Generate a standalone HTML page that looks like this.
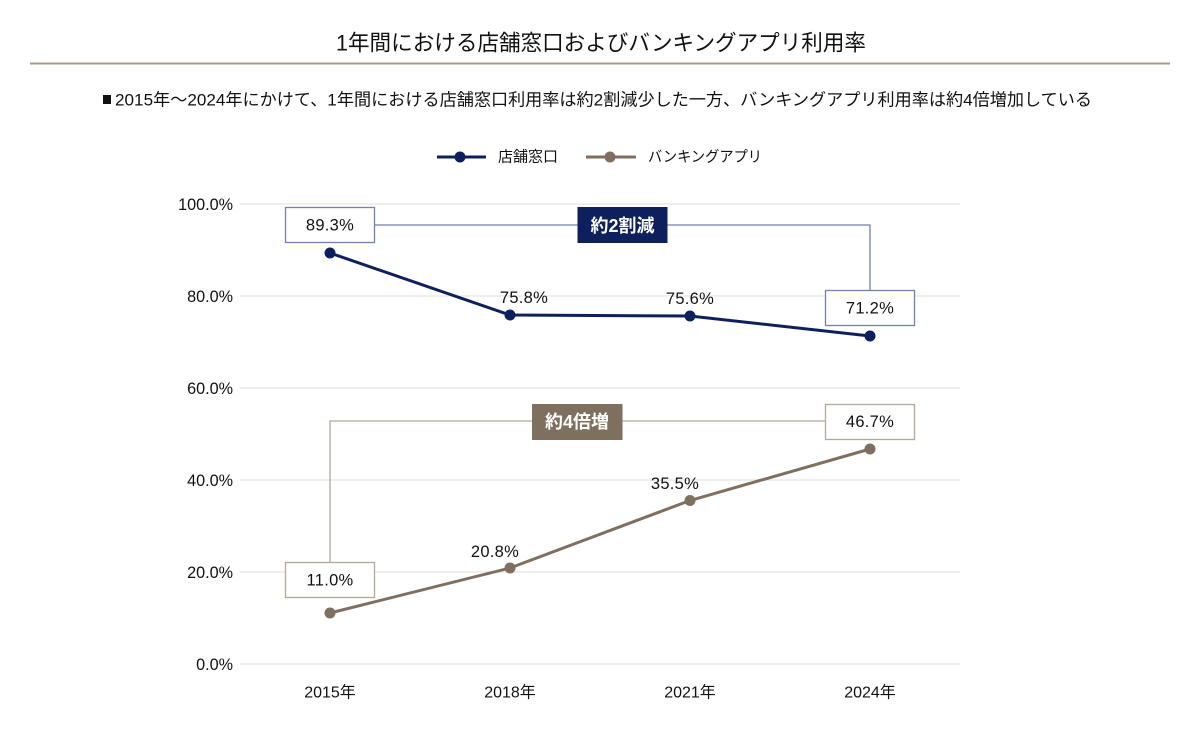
<!DOCTYPE html>
<html>
<head>
<meta charset="utf-8">
<style>
  html, body { margin:0; padding:0; background:#ffffff; }
  svg { display:block; }
  text { font-family: "Liberation Sans", "Noto Sans CJK JP", sans-serif; fill:#111111; }
</style>
</head>
<body>
<svg width="1200" height="730" viewBox="0 0 1200 730" xmlns="http://www.w3.org/2000/svg">
  <rect x="0" y="0" width="1200" height="730" fill="#ffffff"/>

  <!-- Title -->
  <text x="336" y="43" font-size="22" dominant-baseline="central" textLength="530" lengthAdjust="spacingAndGlyphs">1年間における店舗窓口およびバンキングアプリ利用率</text>
  <rect x="30" y="62.5" width="1140" height="2" fill="#a59a8b"/>

  <!-- Subtitle -->
  <rect x="103" y="95" width="8" height="9" fill="#111111"/>
  <text x="115" y="100" font-size="17" dominant-baseline="central" textLength="977" lengthAdjust="spacingAndGlyphs">2015年～2024年にかけて、1年間における店舗窓口利用率は約2割減少した一方、バンキングアプリ利用率は約4倍増加している</text>

  <!-- Legend -->
  <line x1="437" y1="157" x2="486" y2="157" stroke="#0e1f5e" stroke-width="3"/>
  <circle cx="460" cy="157" r="5.5" fill="#0e1f5e"/>
  <text x="498" y="157" font-size="15" dominant-baseline="central" textLength="60" lengthAdjust="spacingAndGlyphs">店舗窓口</text>
  <line x1="586" y1="157" x2="636" y2="157" stroke="#7e6f5e" stroke-width="3"/>
  <circle cx="610" cy="157" r="5.5" fill="#7e6f5e"/>
  <text x="648" y="157" font-size="15" dominant-baseline="central" textLength="114" lengthAdjust="spacingAndGlyphs">バンキングアプリ</text>

  <!-- Gridlines -->
  <g stroke="#f1efeb" stroke-width="2">
    <line x1="240" y1="204" x2="960" y2="204"/>
    <line x1="240" y1="296" x2="960" y2="296"/>
    <line x1="240" y1="388" x2="960" y2="388"/>
    <line x1="240" y1="480" x2="960" y2="480"/>
    <line x1="240" y1="572" x2="960" y2="572"/>
    <line x1="240" y1="664" x2="960" y2="664"/>
  </g>

  <!-- Y axis labels -->
  <g font-size="16.2" text-anchor="end">
    <text x="233" y="205" dominant-baseline="central">100.0%</text>
    <text x="233" y="297" dominant-baseline="central">80.0%</text>
    <text x="233" y="389" dominant-baseline="central">60.0%</text>
    <text x="233" y="481" dominant-baseline="central">40.0%</text>
    <text x="233" y="573" dominant-baseline="central">20.0%</text>
    <text x="233" y="665" dominant-baseline="central">0.0%</text>
  </g>

  <!-- X axis labels -->
  <g font-size="16" text-anchor="middle">
    <text x="330" y="693" dominant-baseline="central">2015年</text>
    <text x="510" y="693" dominant-baseline="central">2018年</text>
    <text x="690" y="693" dominant-baseline="central">2021年</text>
    <text x="870" y="693" dominant-baseline="central">2024年</text>
  </g>

  <!-- Navy connector -->
  <polyline points="375,225 870,225 870,290" fill="none" stroke="#7281ab" stroke-width="1.3"/>
  <!-- Brown connector -->
  <polyline points="330,562 330,421 825,421" fill="none" stroke="#b2a799" stroke-width="1.3"/>

  <!-- Navy series -->
  <polyline points="330,253 510,315 690,316 870,336" fill="none" stroke="#0e1f5e" stroke-width="3"/>
  <g fill="#0e1f5e">
    <circle cx="330" cy="253" r="5.5"/>
    <circle cx="510" cy="315" r="5.5"/>
    <circle cx="690" cy="316" r="5.5"/>
    <circle cx="870" cy="336" r="5.5"/>
  </g>

  <!-- Brown series -->
  <polyline points="330,613 510,568 690,500.5 870,449" fill="none" stroke="#7e6f5e" stroke-width="3"/>
  <g fill="#7e6f5e">
    <circle cx="330" cy="613" r="5.5"/>
    <circle cx="510" cy="568" r="5.5"/>
    <circle cx="690" cy="500.5" r="5.5"/>
    <circle cx="870" cy="449" r="5.5"/>
  </g>

  <!-- Boxes -->
  <rect x="285.5" y="207.5" width="89" height="35" fill="#ffffff" stroke="#7281ab" stroke-width="1.3"/>
  <rect x="825.5" y="290.5" width="89" height="35" fill="#ffffff" stroke="#7281ab" stroke-width="1.3"/>
  <rect x="285.5" y="562.5" width="89" height="35" fill="#ffffff" stroke="#b2a799" stroke-width="1.3"/>
  <rect x="825.5" y="404.5" width="89" height="35" fill="#ffffff" stroke="#b2a799" stroke-width="1.3"/>

  <!-- Callout labels -->
  <rect x="577.5" y="207" width="90" height="36" fill="#0e1f5e"/>
  <text x="622.5" y="226" font-size="18" font-weight="bold" text-anchor="middle" dominant-baseline="central" style="fill:#ffffff">約2割減</text>
  <rect x="532" y="404" width="90.5" height="36" fill="#7e6f5e"/>
  <text x="577" y="422" font-size="18" font-weight="bold" text-anchor="middle" dominant-baseline="central" style="fill:#ffffff">約4倍増</text>

  <!-- Data labels -->
  <g font-size="16.5" text-anchor="middle" letter-spacing="0.3">
    <text x="330" y="225.5" dominant-baseline="central">89.3%</text>
    <text x="870" y="308.5" dominant-baseline="central">71.2%</text>
    <text x="330" y="580.5" dominant-baseline="central">11.0%</text>
    <text x="870" y="422" dominant-baseline="central">46.7%</text>
    <text x="524" y="298" dominant-baseline="central">75.8%</text>
    <text x="690" y="299" dominant-baseline="central">75.6%</text>
    <text x="495" y="552" dominant-baseline="central">20.8%</text>
    <text x="675" y="484" dominant-baseline="central">35.5%</text>
  </g>
</svg>
</body>
</html>
